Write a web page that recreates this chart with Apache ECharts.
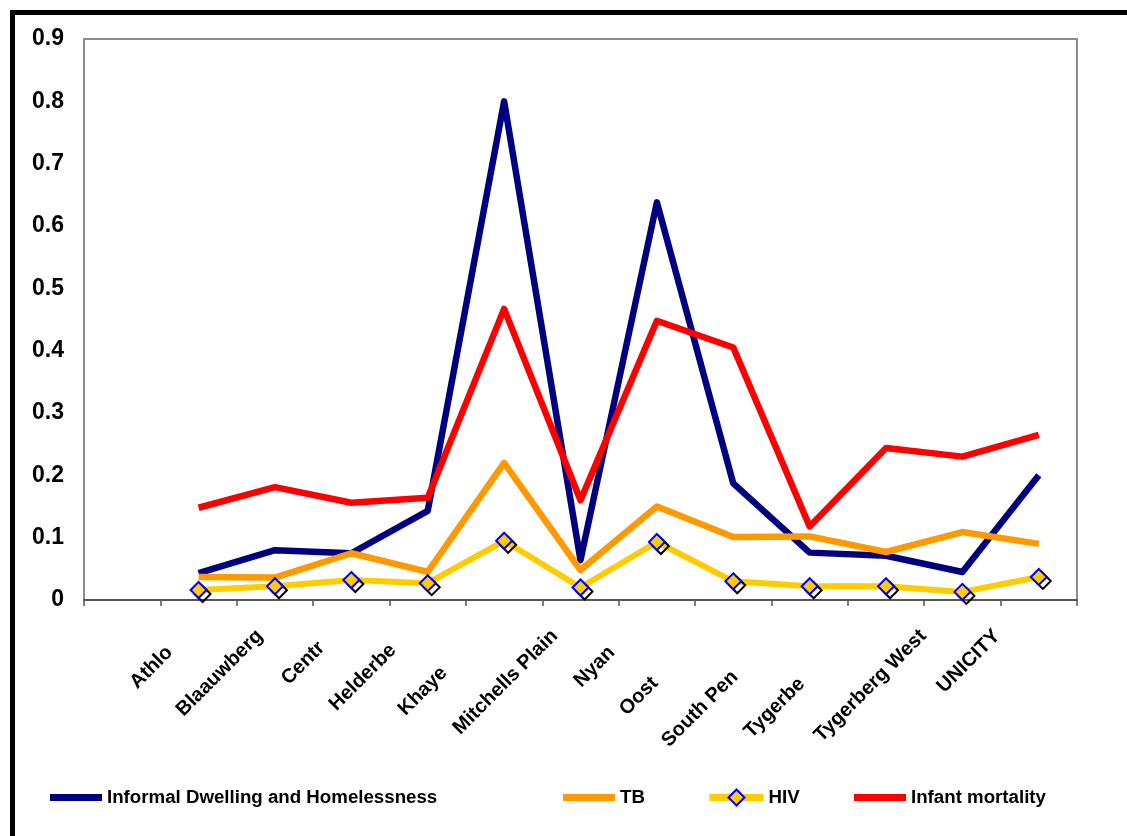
<!DOCTYPE html>
<html>
<head>
<meta charset="utf-8">
<title>Health indicators by district</title>
<script src="https://cdn.jsdelivr.net/npm/echarts@6/dist/echarts.min.js"></script>
<style>
  html, body { margin: 0; padding: 0; background: #ffffff; }
  #chart { width: 1127px; height: 836px; }
</style>
</head>
<body>
<div id="chart"></div>
<script>
// Districts in axis order; the category axis keeps one empty slot before the first district.
const districts = ['Athlone', 'Blaauwberg', 'Central', 'Helderberg', 'Khayelitsha', 'Mitchells Plain',
  'Nyanga', 'Oostenberg', 'South Peninsula', 'Tygerberg East', 'Tygerberg West', 'UNICITY'];

// Visible part of each axis label (the rest of the name is clipped by its neighbour).
const tickLabels = ['Athlo', 'Blaauwberg', 'Centr', 'Helderbe', 'Khaye', 'Mitchells Plain',
  'Nyan', 'Oost', 'South Pen', 'Tygerbe', 'Tygerberg West', 'UNICITY'];

// Indicator values per district
const informalDwelling = [0.043, 0.080, 0.075, 0.143, 0.800, 0.064, 0.638, 0.187, 0.076, 0.071, 0.045, 0.200];
const tb               = [0.037, 0.036, 0.075, 0.045, 0.220, 0.048, 0.150, 0.101, 0.102, 0.077, 0.109, 0.090];
const hiv              = [0.016, 0.022, 0.032, 0.027, 0.095, 0.020, 0.093, 0.030, 0.022, 0.022, 0.013, 0.037];
const infantMortality  = [0.148, 0.181, 0.156, 0.164, 0.467, 0.160, 0.448, 0.405, 0.118, 0.244, 0.230, 0.265];

// Value axis
const yMin = 0, yMax = 0.9, yStep = 0.1;

const seriesNames = ['Informal Dwelling and Homelessness', 'TB', 'HIV', 'Infant mortality'];

// Category slots: a leading empty slot, then one per district
const slots = [''].concat(districts);
const onSlots = arr => [null].concat(arr);

const FONT = '"Liberation Sans", Arial, sans-serif';

const chart = echarts.init(document.getElementById('chart'), null, { renderer: 'canvas' });

const legendText = { fontFamily: FONT, fontSize: 18.7, fontWeight: 'bold', color: '#000' };

// plain bar icon for the three unmarked lines
const barLegend = (name, left) => ({
  data: [name], left: left, top: 788, padding: 0, itemGap: 0, selectedMode: false,
  icon: 'rect', itemWidth: 52, itemHeight: 7, textStyle: legendText
});

chart.setOption({
  animation: false,
  backgroundColor: '#ffffff',
  graphic: [
    { type: 'rect', shape: { x: 10, y: 10, width: 1117, height: 5 }, style: { fill: '#000' } },
    { type: 'rect', shape: { x: 10, y: 10, width: 5, height: 826 }, style: { fill: '#000' } }
  ],
  grid: [
    { left: 84, right: 50, top: 39, bottom: 236, show: true, borderColor: '#8c8c8c', borderWidth: 2,
      backgroundColor: 'transparent' },
    // axis that carries the rotated district names
    { left: 186, right: 130, top: 39, bottom: 236, show: false }
  ],
  legend: [
    barLegend(seriesNames[0], 50),
    barLegend(seriesNames[1], 563),
    {
      data: [seriesNames[2]], left: 706, top: 788, padding: 0, itemGap: 0, selectedMode: false,
      itemWidth: 54, itemHeight: 20, textStyle: legendText,
      lineStyle: { width: 7 }
    },
    barLegend(seriesNames[3], 854)
  ],
  xAxis: [
    {
      type: 'category',
      gridIndex: 0,
      data: slots,
      boundaryGap: true,
      axisLine: { show: true, lineStyle: { color: '#555', width: 2 } },
      axisTick: { show: true, interval: 0, length: 6, lineStyle: { color: '#555', width: 1.5 } },
      axisLabel: { show: false },
      splitLine: { show: false }
    },
    {
      type: 'category',
      gridIndex: 1,
      data: districts,
      boundaryGap: false,
      axisLine: { show: false },
      axisTick: { show: false },
      splitLine: { show: false },
      axisLabel: {
        show: true,
        interval: 0,
        rotate: 45,
        margin: 33,
        hideOverlap: false,
        fontFamily: FONT,
        fontSize: 20,
        fontWeight: 'bold',
        color: '#000',
        formatter: (value, idx) => {
          const shown = tickLabels[idx];
          const rest = value.slice(shown.length);
          return rest ? '{v|' + shown + '}{h|' + rest + '}' : '{v|' + shown + '}';
        },
        rich: {
          v: { fontFamily: FONT, fontSize: 20, fontWeight: 'bold', color: '#000' },
          h: { fontFamily: FONT, fontSize: 20, fontWeight: 'bold', color: 'rgba(0,0,0,0)' }
        }
      }
    }
  ],
  yAxis: [
    {
      type: 'value',
      gridIndex: 0,
      min: yMin,
      max: yMax,
      interval: yStep,
      axisLine: { show: false },
      axisTick: { show: false },
      splitLine: { show: false },
      axisLabel: {
        margin: 20,
        fontFamily: FONT,
        fontSize: 23,
        fontWeight: 'bold',
        color: '#000'
      }
    },
    { type: 'value', gridIndex: 1, show: false, min: yMin, max: yMax }
  ],
  series: [
    {
      name: seriesNames[0],
      type: 'line',
      data: onSlots(informalDwelling),
      symbol: 'none',
      color: '#000080',
      lineStyle: { color: '#000080', width: 6.5, join: 'round', cap: 'butt' }
    },
    {
      name: seriesNames[1],
      type: 'line',
      data: onSlots(tb),
      symbol: 'none',
      color: '#ff9900',
      lineStyle: { color: '#ff9900', width: 6.5, join: 'round', cap: 'butt' }
    },
    {
      // offset outline drawn behind the HIV markers
      name: 'HIV shadow',
      type: 'line',
      data: onSlots(hiv),
      symbol: 'diamond',
      symbolSize: 16,
      symbolOffset: [4, 4],
      showSymbol: true,
      lineStyle: { width: 0, opacity: 0 },
      itemStyle: { color: 'rgba(0,0,0,0)', borderColor: '#000', borderWidth: 2 },
      silent: true
    },
    {
      name: seriesNames[2],
      type: 'line',
      data: onSlots(hiv),
      symbol: 'diamond',
      symbolSize: 16,
      showSymbol: true,
      color: '#ffcc00',
      lineStyle: { color: '#ffcc00', width: 6, join: 'round', cap: 'butt' },
      itemStyle: { color: '#ffcc00', borderColor: '#0000ff', borderWidth: 2 }
    },
    {
      name: seriesNames[3],
      type: 'line',
      data: onSlots(infantMortality),
      symbol: 'none',
      color: '#ff0000',
      lineStyle: { color: '#ff0000', width: 6.5, join: 'round', cap: 'butt' }
    }
  ]
});
</script>
</body>
</html>
